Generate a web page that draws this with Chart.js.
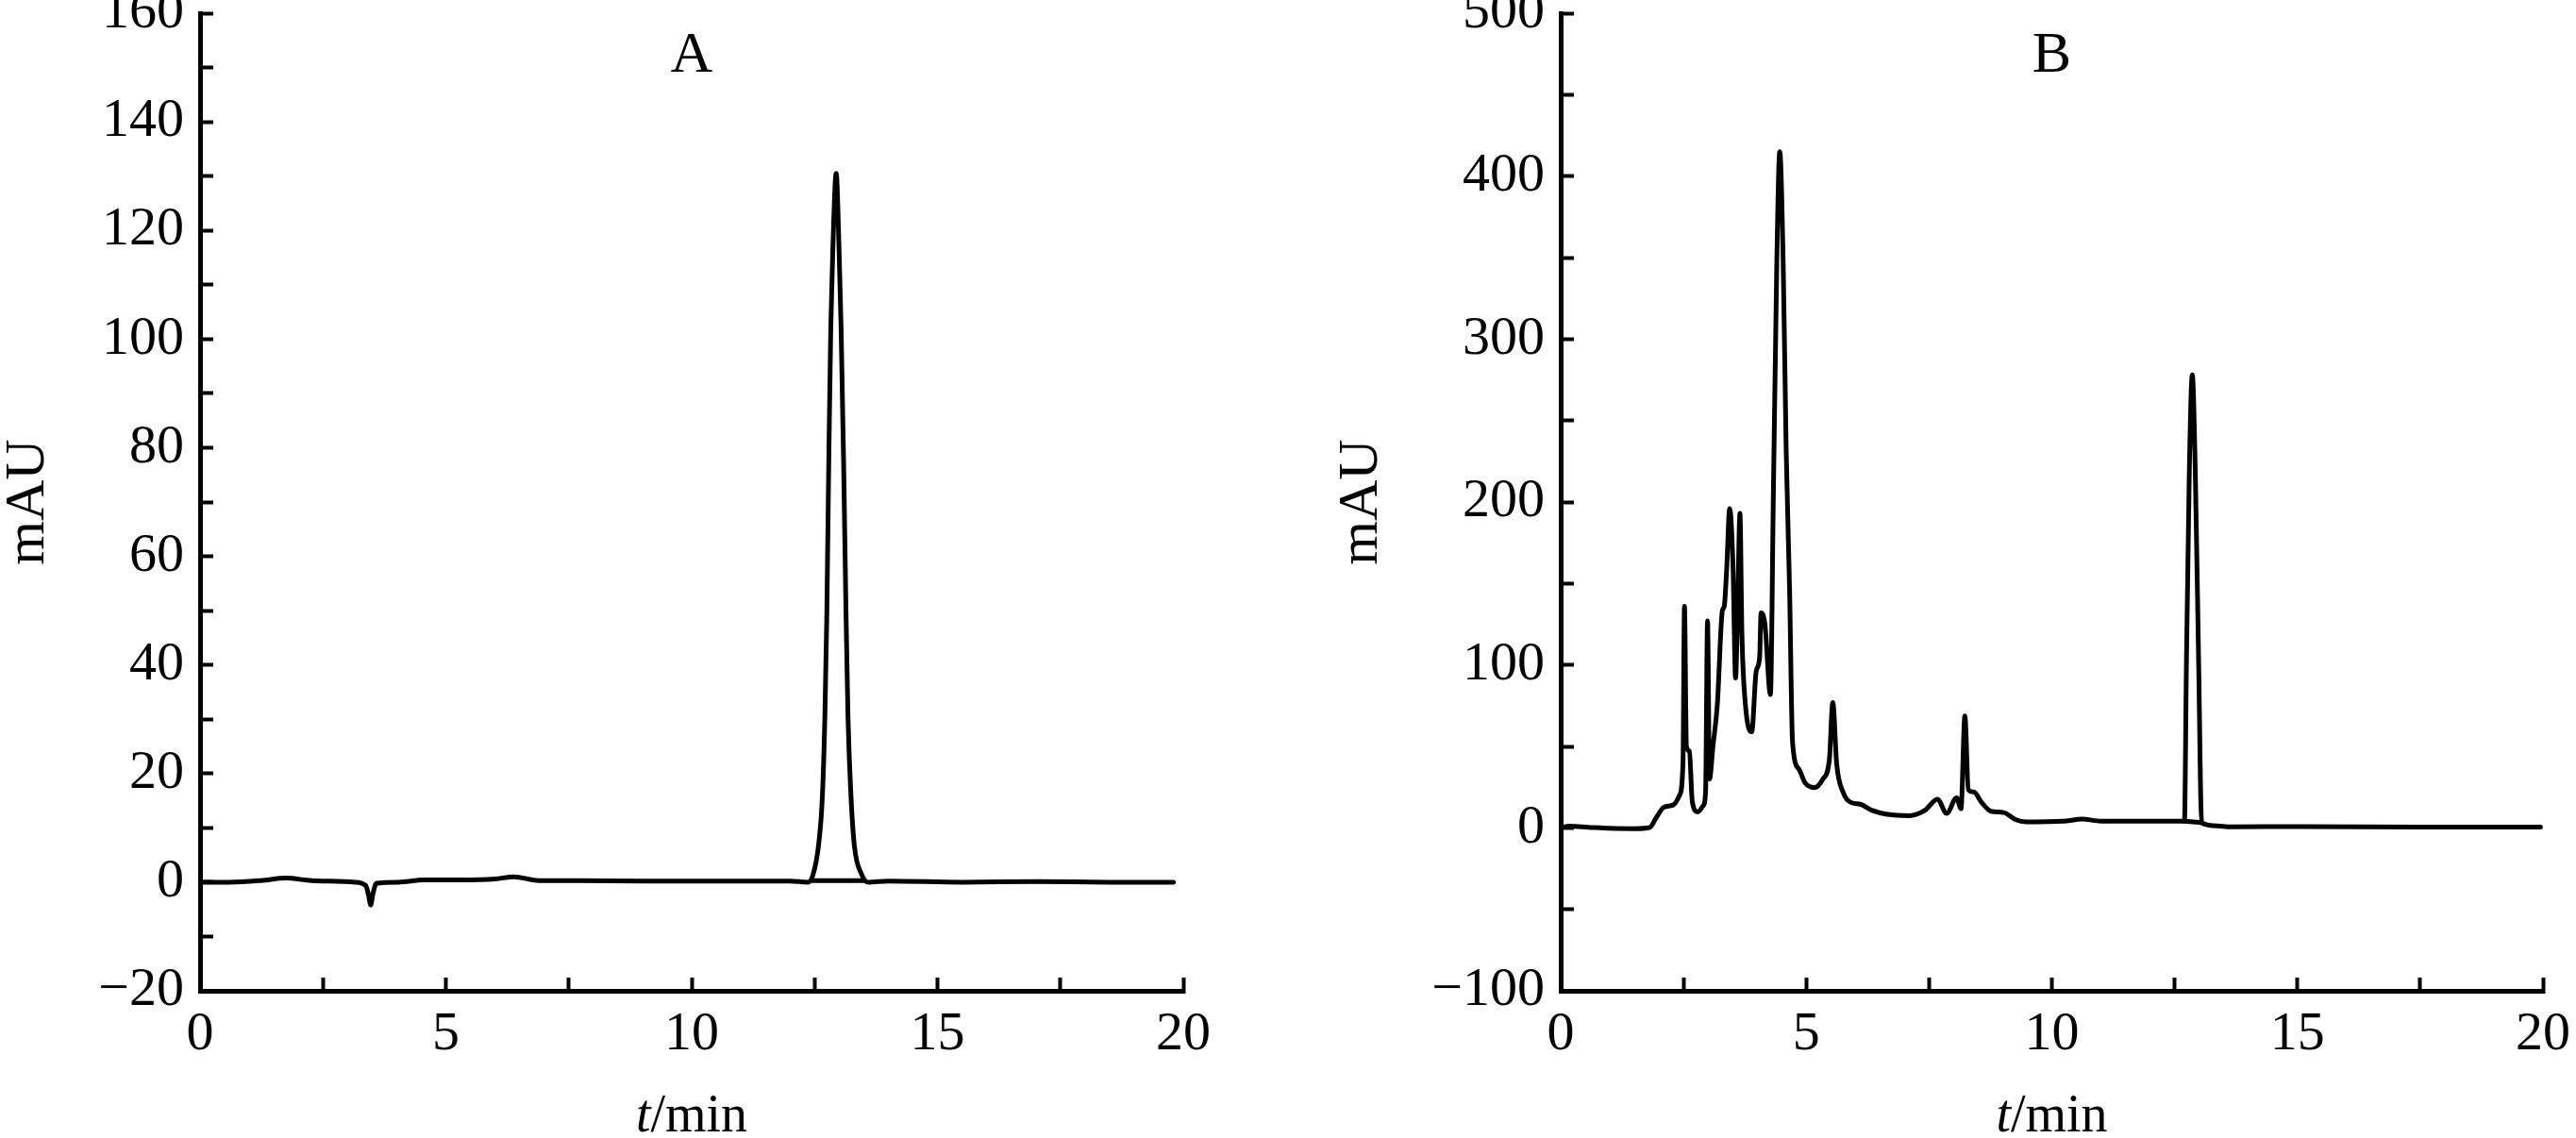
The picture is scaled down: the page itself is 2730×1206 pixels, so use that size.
<!DOCTYPE html>
<html>
<head>
<meta charset="utf-8">
<title>Chromatograms A / B</title>
<script src="https://cdn.jsdelivr.net/npm/chart.js@4.4.0/dist/chart.umd.min.js"></script>
<style>
    html, body { margin: 0; padding: 0; background: #fff; }
    body { width: 2730px; height: 1206px; position: relative; overflow: hidden; }
    canvas { position: absolute; top: 0; }
    #chartA { left: 0; }
    #chartB { left: 1380px; }
</style>
</head>
<body>
<canvas id="chartA" width="1300" height="1206"></canvas>
<canvas id="chartB" width="1350" height="1206"></canvas>
<script>
// ========================================
// Data
// ========================================

// Panel A: standard
const timeA = [0, 0.6, 1.24, 1.75, 2.27, 3.15, 3.37, 3.43, 3.47, 3.52,
    3.59, 4.03, 4.55, 5.35, 6.0, 6.38, 6.89, 7.7, 9.0, 10.5,
    12.0, 12.37, 12.47, 12.58, 12.66, 12.71, 12.75, 12.79, 12.83, 12.87,
    12.94, 13.0, 13.04, 13.09, 13.14, 13.18, 13.24, 13.31, 13.46, 13.59,
    14.0, 15.5, 17.0, 18.5, 19.8];
const signalA = [0, 0, 0.3, 0.75, 0.3, 0, -0.6, -2.5, -4.2, -2.0,
    -0.2, 0, 0.4, 0.4, 0.6, 1.0, 0.3, 0.3, 0.2, 0.2,
    0.2, 0, 1.4, 6.7, 16, 30.5, 49.5, 78, 102, 116,
    130.5, 116, 102, 78, 49.5, 30.5, 16, 6.7, 1.4, 0,
    0.2, 0, 0.1, 0, 0];
// integration baseline drawn under the peak
const baseTimeA = [12.45, 13.5];
const baseSignalA = [0.3, 0.3];

// Panel B: sample
const timeB = [0, 0.18, 0.56, 1.01, 1.5, 1.81, 1.94, 2.1, 2.29, 2.42,
    2.49, 2.52, 2.56, 2.62, 2.68, 2.79, 2.9, 2.95, 2.99, 3.03,
    3.1, 3.19, 3.29, 3.33, 3.38, 3.44, 3.51, 3.56, 3.6, 3.65,
    3.69, 3.76, 3.89, 3.98, 4.05, 4.08, 4.16, 4.27, 4.33, 4.4,
    4.46, 4.53, 4.59, 4.66, 4.72, 4.85, 4.98, 5.17, 5.34, 5.47,
    5.54, 5.62, 5.75, 5.91, 6.1, 6.33, 6.65, 7.1, 7.42, 7.67,
    7.86, 8.06, 8.15, 8.23, 8.3, 8.41, 8.57, 8.76, 9.02, 9.27,
    9.47, 10.23, 10.62, 11.0, 12.7, 12.74, 12.8, 12.86, 12.92, 12.99,
    13.05, 13.37, 13.63, 15.1, 17.5, 19.95];
const signalB = [0.2, 1.0, 0.4, -0.3, -0.5, 0.2, 6, 12.7, 14, 20,
    40, 136, 50, 47, 16, 9.8, 13.5, 22, 127, 30,
    50, 76, 133, 136, 159, 196, 159, 92, 130, 193,
    119, 76, 59, 96, 104.5, 132, 124.5, 81.8, 204, 347,
    415, 347, 233, 147, 53, 36, 27.5, 24.7, 30, 41.8,
    77, 39, 21.8, 15.6, 14.5, 10.8, 8.3, 7.5, 10.8, 17.6,
    8.9, 18.5, 11.8, 68.7, 23.4, 22, 15.6, 10.2, 9.4, 5,
    3.7, 4.1, 5.4, 4.1, 4.1, 100, 220, 278, 220, 100,
    3.2, 1.2, 0.6, 0.8, 0.5, 0.5];
const baseTimeB = [12.7, 13.05];
const baseSignalB = [4.1, 3.2];

// tick labels
const xLabels = [0, 5, 10, 15, 20];
const yLabelsA = [-20, 0, 20, 40, 60, 80, 100, 120, 140, 160];
const yLabelsB = [-100, 0, 100, 200, 300, 400, 500];

// ========================================
// Helpers
// ========================================
const FONT = '"Liberation Serif", "Times New Roman", serif';

const toPoints = (xs, ys) => xs.map((x, i) => ({ x: x, y: ys[i] }));

const formatTick = v => (v < 0 ? '\u2212' + Math.abs(v) : String(v));

// panel letter and x axis title (italic t)
const annotatePlugin = {
    id: 'annotate',
    afterDraw(chart, args, opts) {
        const { ctx, chartArea } = chart;
        const cx = (chartArea.left + chartArea.right) / 2;
        ctx.save();
        ctx.fillStyle = '#000';
        ctx.textBaseline = 'alphabetic';
        ctx.textAlign = 'center';
        ctx.font = '62px ' + FONT;
        ctx.fillText(opts.label, cx, 76);

        ctx.textAlign = 'left';
        ctx.font = 'italic 56px ' + FONT;
        const wT = ctx.measureText('t').width;
        ctx.font = '56px ' + FONT;
        const wRest = ctx.measureText('/min').width;
        const x0 = cx - (wT + wRest) / 2;
        ctx.font = 'italic 56px ' + FONT;
        ctx.fillText('t', x0, 1199);
        ctx.font = '56px ' + FONT;
        ctx.fillText('/min', x0 + wT, 1199);
        ctx.restore();
    }
};

function lineDataset(points) {
    return {
        data: points,
        borderColor: '#000',
        borderWidth: 5,
        pointRadius: 0,
        fill: false,
        cubicInterpolationMode: 'monotone',
        borderJoinStyle: 'round',
        borderCapStyle: 'round'
    };
}

function createChart(canvasId, cfg) {
    const canvas = document.getElementById(canvasId);
    return new Chart(canvas, {
        type: 'line',
        data: {
            datasets: [
                lineDataset(toPoints(cfg.time, cfg.signal)),
                lineDataset(toPoints(cfg.baseTime, cfg.baseSignal))
            ]
        },
        options: {
            responsive: false,
            animation: false,
            devicePixelRatio: 1,
            layout: { padding: { top: 14, right: cfg.padRight, left: cfg.padLeft, bottom: 0 } },
            plugins: {
                legend: { display: false },
                tooltip: { enabled: false },
                annotate: { label: cfg.label }
            },
            scales: {
                x: {
                    type: 'linear',
                    min: 0,
                    max: 20,
                    border: { color: '#000', width: 5 },
                    grid: { drawOnChartArea: false, drawTicks: true, tickLength: -14, tickWidth: 4, tickColor: '#000' },
                    ticks: {
                        stepSize: 2.5,
                        autoSkip: false,
                        maxRotation: 0,
                        padding: 26,
                        color: '#000',
                        font: { family: FONT, size: 58 },
                        callback: v => (xLabels.includes(v) ? String(v) : '')
                    },
                    afterFit: scale => {
                        scale.height = 156;
                        scale.paddingLeft = 0;
                        scale.paddingRight = 0;
                    }
                },
                y: {
                    type: 'linear',
                    min: cfg.yMin,
                    max: cfg.yMax,
                    border: { color: '#000', width: 5 },
                    grid: { drawOnChartArea: false, drawTicks: true, tickLength: -14, tickWidth: 4, tickColor: '#000' },
                    title: {
                        display: true,
                        text: 'mAU',
                        color: '#000',
                        padding: { top: 0, bottom: 0 },
                        font: { family: FONT, size: 60, lineHeight: 1 }
                    },
                    ticks: {
                        stepSize: cfg.yStep,
                        autoSkip: false,
                        padding: 31,
                        color: '#000',
                        font: { family: FONT, size: 58 },
                        callback: v => (cfg.yLabels.includes(v) ? formatTick(v) : '')
                    },
                    afterFit: scale => {
                        scale.width = cfg.yWidth;
                        scale.paddingTop = 0;
                        scale.paddingBottom = 0;
                    }
                }
            }
        },
        plugins: [annotatePlugin]
    });
}

createChart('chartA', {
    label: 'A',
    time: timeA, signal: signalA,
    baseTime: baseTimeA, baseSignal: baseSignalA,
    yMin: -20, yMax: 160, yStep: 10, yLabels: yLabelsA,
    padLeft: 0, padRight: 46, yWidth: 212
});

createChart('chartB', {
    label: 'B',
    time: timeB, signal: signalB,
    baseTime: baseTimeB, baseSignal: baseSignalB,
    yMin: -100, yMax: 500, yStep: 50, yLabels: yLabelsB,
    padLeft: 33, padRight: 35, yWidth: 241
});
</script>
</body>
</html>
